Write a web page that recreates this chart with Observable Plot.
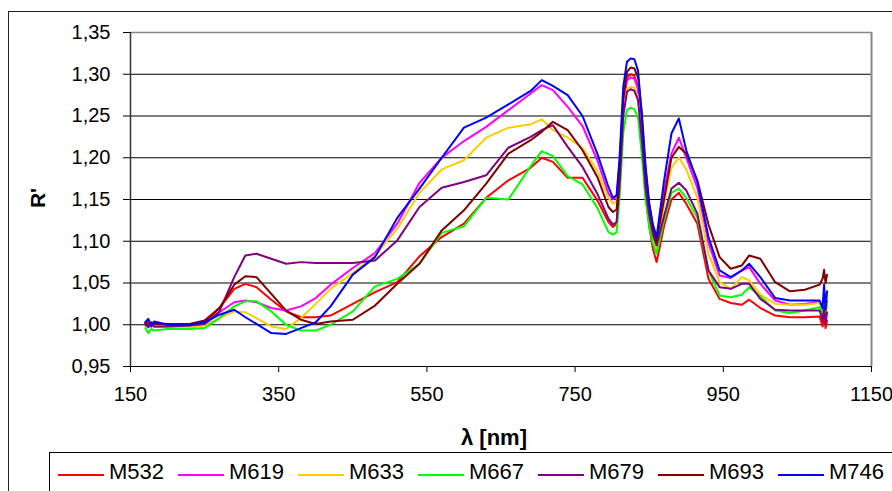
<!DOCTYPE html>
<html><head><meta charset="utf-8">
<script src="https://cdn.jsdelivr.net/npm/d3@7"></script>
<script src="https://cdn.jsdelivr.net/npm/@observablehq/plot@0.6"></script>
<style>
html,body{margin:0;padding:0;background:#fff;}
#wrap{position:relative;width:892px;height:491px;overflow:hidden;font-family:"Liberation Sans",Arial,sans-serif;color:#000;}
#outer{position:absolute;left:8px;top:11px;width:1000px;height:1000px;border:1.5px solid #222;box-sizing:border-box;}
#chart{position:absolute;left:0;top:0;}
#ylab{position:absolute;left:37px;top:198px;font-weight:bold;font-size:21px;line-height:21px;white-space:nowrap;transform:translate(-50%,-50%) rotate(-90deg);}
#xlab{position:absolute;left:494px;top:427px;font-weight:bold;font-size:22px;line-height:22px;white-space:nowrap;transform:translateX(-50%);}
#legend{position:absolute;left:49px;top:452px;width:1000px;height:100px;border:1px solid #000;box-sizing:border-box;}
.li{position:absolute;height:0;border-top:2px solid;}
.lt{position:absolute;font-size:22px;line-height:22px;white-space:nowrap;}
</style>
</head><body>
<div id="wrap">
  <div id="outer"></div>
  <div id="chart"></div>
  <div id="ylab">R'</div>
  <div id="xlab">λ [nm]</div>
  <div id="legend"></div>
</div>
<script>
const lambda = [170,174,178,182,200,230,250,270,290,305,320,340,360,380,400,420,450,480,510,540,570,600,630,660,690,705,720,740,760,780,795,801,806,810,815,820,825,830,835,840,845,850,855,860,870,880,890,900,915,930,945,960,975,985,1000,1020,1040,1060,1080,1084,1086,1088,1090];

const M532 = [1.002,1.004,0.999,1.002,1.001,1.001,1.003,1.020,1.043,1.049,1.045,1.030,1.016,1.009,1.009,1.011,1.025,1.039,1.051,1.082,1.105,1.121,1.152,1.173,1.188,1.200,1.195,1.176,1.176,1.149,1.123,1.117,1.121,1.170,1.263,1.296,1.300,1.298,1.284,1.228,1.158,1.118,1.091,1.075,1.118,1.150,1.158,1.145,1.121,1.055,1.031,1.026,1.024,1.030,1.020,1.011,1.009,1.009,1.010,0.998,1.012,0.996,1.005];
const M619 = [1.000,0.998,1.002,0.998,0.998,0.997,1.000,1.015,1.027,1.029,1.027,1.020,1.017,1.022,1.032,1.048,1.068,1.086,1.121,1.170,1.200,1.220,1.237,1.257,1.277,1.287,1.281,1.261,1.238,1.197,1.157,1.150,1.153,1.192,1.267,1.293,1.296,1.295,1.282,1.233,1.171,1.136,1.112,1.098,1.160,1.205,1.224,1.200,1.164,1.098,1.059,1.056,1.065,1.069,1.049,1.029,1.024,1.025,1.028,1.018,1.035,1.020,1.028];
const M633 = [0.999,1.001,0.997,0.999,0.997,0.997,0.999,1.008,1.016,1.015,1.008,0.998,0.995,1.008,1.025,1.043,1.062,1.083,1.115,1.158,1.186,1.197,1.224,1.236,1.240,1.246,1.233,1.224,1.212,1.184,1.152,1.145,1.148,1.186,1.257,1.282,1.285,1.284,1.271,1.223,1.162,1.127,1.104,1.090,1.145,1.188,1.200,1.186,1.152,1.085,1.051,1.043,1.057,1.053,1.036,1.025,1.024,1.024,1.026,1.015,1.030,1.012,1.024];
const M667 = [0.996,0.990,0.995,0.993,0.995,0.995,0.996,1.008,1.022,1.028,1.028,1.016,1.000,0.993,0.993,1.000,1.016,1.046,1.055,1.073,1.110,1.118,1.152,1.150,1.190,1.208,1.202,1.178,1.168,1.140,1.111,1.108,1.111,1.152,1.230,1.257,1.260,1.258,1.248,1.204,1.150,1.118,1.097,1.085,1.125,1.158,1.163,1.152,1.128,1.065,1.035,1.033,1.036,1.045,1.034,1.017,1.014,1.017,1.021,1.012,1.030,1.015,1.026];
const M679 = [1.000,0.997,1.001,0.998,0.998,0.999,1.001,1.016,1.057,1.083,1.085,1.079,1.073,1.075,1.074,1.074,1.074,1.077,1.101,1.141,1.164,1.171,1.179,1.212,1.225,1.233,1.239,1.213,1.189,1.157,1.127,1.120,1.123,1.167,1.250,1.279,1.282,1.280,1.269,1.222,1.164,1.131,1.108,1.095,1.130,1.163,1.170,1.161,1.133,1.065,1.045,1.043,1.049,1.049,1.031,1.018,1.017,1.017,1.017,1.005,1.022,1.002,1.015];
const M693 = [1.002,1.000,1.003,1.001,1.001,1.001,1.005,1.020,1.048,1.058,1.057,1.037,1.017,1.006,1.001,1.004,1.006,1.023,1.049,1.073,1.113,1.137,1.169,1.205,1.221,1.231,1.243,1.233,1.209,1.177,1.141,1.135,1.138,1.182,1.270,1.303,1.308,1.307,1.296,1.255,1.192,1.145,1.117,1.100,1.150,1.200,1.213,1.205,1.173,1.120,1.081,1.067,1.071,1.083,1.079,1.051,1.040,1.042,1.048,1.055,1.066,1.050,1.060];
const M746 = [1.003,1.007,0.998,1.004,1.000,1.000,1.003,1.012,1.018,1.009,1.001,0.990,0.989,0.996,1.003,1.022,1.060,1.081,1.128,1.163,1.200,1.236,1.248,1.264,1.280,1.293,1.286,1.275,1.250,1.205,1.165,1.152,1.155,1.200,1.285,1.315,1.319,1.318,1.304,1.250,1.185,1.145,1.120,1.105,1.172,1.229,1.247,1.209,1.171,1.105,1.065,1.057,1.065,1.073,1.057,1.032,1.029,1.029,1.029,1.020,1.048,1.018,1.040];

const seriesNames = ["M532","M619","M633","M667","M679","M693","M746"];
const seriesColors = ["#FF0000","#FF00FF","#FFCC00","#00FF00","#800080","#800000","#0000FF"];
const xTicks = [150,350,550,750,950,1150];
const yTicks = [0.95,1.00,1.05,1.10,1.15,1.20,1.25,1.30,1.35];

const seriesValues = [M532,M619,M633,M667,M679,M693,M746];
seriesValues.forEach((s,i)=>{ if (s.length !== lambda.length) throw new Error(seriesNames[i]+" length "+s.length+" != "+lambda.length); });

const rows = seriesNames.flatMap((name,i)=> lambda.map((l,j)=>({lambda:l, r:seriesValues[i][j], series:name})));

const chart = Plot.plot({
  width: 892, height: 420,
  marginLeft: 130, marginRight: 21, marginTop: 32, marginBottom: 54,
  style: {fontFamily: "Liberation Sans, Arial, sans-serif", fontSize: "20px", background: "transparent", color: "#000", overflow: "visible"},
  x: {domain: [150,1150], label: null},
  y: {domain: [0.95,1.35], label: null},
  color: {domain: seriesNames, range: seriesColors},
  marks: [
    Plot.gridY(yTicks, {stroke: "#000", strokeOpacity: 1, strokeWidth: 1}),
    Plot.ruleY([1.35], {stroke: "#888", strokeWidth: 1.5}),
    Plot.ruleX([1150], {stroke: "#888", strokeWidth: 2}),
    Plot.line(rows, {x: "lambda", y: "r", z: "series", stroke: "series", strokeWidth: 2}),
    Plot.ruleX([150], {stroke: "#333", strokeWidth: 1.5}),
    Plot.ruleY([0.95], {stroke: "#000", strokeWidth: 1.2}),
    Plot.axisX(xTicks, {tickSize: 6, tickPadding: 14, tickFormat: d => String(d), label: null}),
    Plot.axisY(yTicks, {tickSize: 7, tickPadding: 13, tickFormat: d => d.toFixed(2).replace(".", ","), label: null})
  ]
});
document.getElementById("chart").appendChild(chart);

const legend = document.getElementById("legend");
seriesNames.forEach((name,i)=>{
  const x0 = 8 + 120*i;
  const ln = document.createElement("div");
  ln.className = "li";
  ln.style.left = x0 + "px";
  ln.style.top = "21px";
  ln.style.width = "46px";
  ln.style.borderTopColor = seriesColors[i];
  legend.appendChild(ln);
  const tx = document.createElement("div");
  tx.className = "lt";
  tx.style.left = (x0 + 51) + "px";
  tx.style.top = "8px";
  tx.textContent = name;
  legend.appendChild(tx);
});
</script>
</body></html>
